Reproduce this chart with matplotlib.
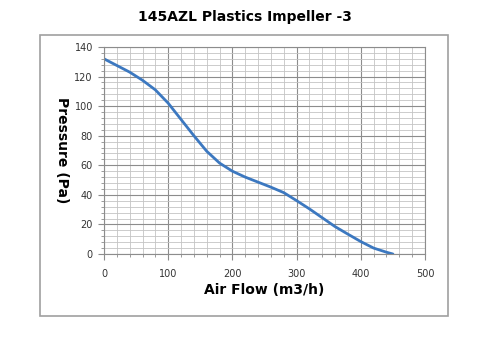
import numpy as np
import matplotlib.pyplot as plt
from matplotlib.patches import Rectangle

# curve
air_flow = [0, 20, 40, 60, 80, 100, 120, 140, 160, 180, 200, 220, 240, 260,
            280, 300, 320, 340, 360, 380, 400, 420, 440, 450]
pressure = [132, 127.5, 123, 117.5, 111, 102, 91, 80, 69.5, 61.5, 56, 52, 48.6, 45.2,
            41.5, 36.1, 30.5, 24.5, 18.5, 13.4, 8.4, 4, 1.2, 0]

x_ticks = [0, 100, 200, 300, 400, 500]
y_ticks = [0, 20, 40, 60, 80, 100, 120, 140]

fig = plt.figure(figsize=(5, 3.52), dpi=100)
fig.patch.set_facecolor("white")

# gray frame around the chart like the excel chart area
fig.patches.append(Rectangle((40 / 500, 1 - 316 / 352), 408 / 500, 281 / 352,
                             transform=fig.transFigure, fill=False,
                             edgecolor="#a0a0a0", linewidth=1.2))

ax = fig.add_axes([104 / 500, 1 - 254 / 352, 321 / 500, 207 / 352])

ax.set_xlim(0, 500)
ax.set_ylim(0, 140)
ax.set_xticks(x_ticks)
ax.set_yticks(y_ticks)
ax.set_xticks(np.arange(0, 501, 20), minor=True)
ax.set_yticks(np.arange(0, 141, 4), minor=True)

ax.grid(which="major", color="#8c8c8c", linewidth=0.8)
ax.grid(which="minor", color="#c4c4c4", linewidth=0.6)
ax.set_axisbelow(True)

ax.plot(air_flow, pressure, color="#3c78c0", linewidth=2.0, solid_capstyle="round",
        solid_joinstyle="round")

for s in ax.spines.values():
    s.set_color("#8c8c8c")
    s.set_linewidth(0.8)
ax.tick_params(which="major", length=4, color="#8c8c8c", labelsize=7,
               labelcolor="#333333", pad=4)
ax.tick_params(which="minor", length=2, color="#8c8c8c")
ax.tick_params(axis="x", pad=7)

ax.set_xlabel("Air Flow (m3/h)", fontsize=10, fontweight="bold", labelpad=3)
ax.set_ylabel("Pressure (Pa)", fontsize=10, fontweight="bold", rotation=-90,
              va="center", ha="center")
ax.yaxis.set_label_coords((62 - 104) / 321, 0.5)

fig.text(245 / 500, 1 - 17 / 352, "145AZL Plastics Impeller -3", ha="center",
         va="center", fontsize=10, fontweight="bold")

fig.savefig("out.png", dpi=100)
